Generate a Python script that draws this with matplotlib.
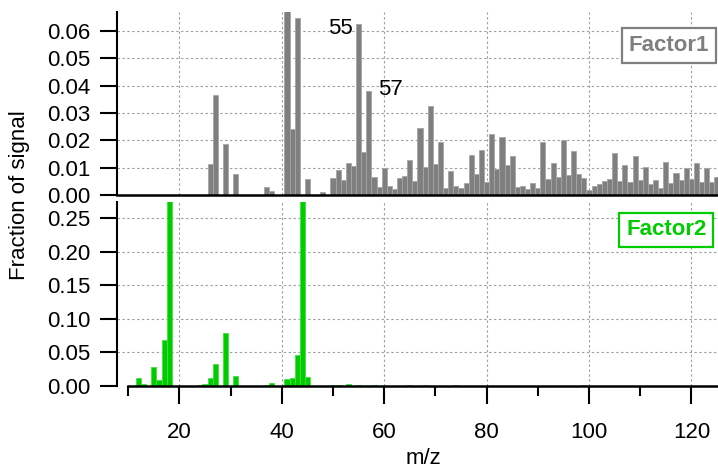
import matplotlib
matplotlib.use("Agg")
import matplotlib.pyplot as plt
from matplotlib.ticker import FixedLocator

plt.rcParams['font.family'] = ['Liberation Sans', 'DejaVu Sans']

# ---- data ----
f1_mz = [26, 27, 29, 31, 37, 38, 41, 42, 43, 45, 48,
         50, 51, 52, 53, 54, 55, 56, 57, 58, 59, 60, 61, 62, 63, 64, 65, 66, 67, 68, 69,
         70, 71, 72, 73, 74, 75, 76, 77, 78, 79, 80, 81, 82, 83, 84, 85, 86, 87, 88, 89,
         90, 91, 92, 93, 94, 95, 96, 97, 98, 99, 100, 101, 102, 103, 104, 105, 106, 107,
         108, 109, 110, 111, 112, 113, 114, 115, 116, 117, 118, 119, 120, 121, 122, 123,
         124, 125]
f1_val = [0.0112, 0.0365, 0.0187, 0.0077, 0.0028, 0.0016, 0.0700, 0.0241, 0.0647, 0.0057, 0.0011,
          0.0061, 0.0092, 0.0055, 0.0118, 0.0106, 0.0625, 0.0159, 0.0382, 0.0065, 0.0028, 0.0100,
          0.0033, 0.0023, 0.0061, 0.0068, 0.0128, 0.0052, 0.0244, 0.0104, 0.0325,
          0.0115, 0.0195, 0.0027, 0.0087, 0.0034, 0.0027, 0.0044, 0.0148, 0.0076, 0.0165, 0.0049,
          0.0225, 0.0096, 0.0212, 0.0111, 0.0143, 0.0031, 0.0034, 0.0021, 0.0044,
          0.0026, 0.0194, 0.0059, 0.0116, 0.0067, 0.0201, 0.0073, 0.0161, 0.0077, 0.0061, 0.0018,
          0.0033, 0.0040, 0.0052, 0.0057, 0.0153, 0.0052, 0.0110,
          0.0049, 0.0142, 0.0056, 0.0101, 0.0039, 0.0055, 0.0027, 0.0121, 0.0045, 0.0081, 0.0054,
          0.0099, 0.0059, 0.0116, 0.0049, 0.0100, 0.0049, 0.0066]

f2_mz = [12, 13, 15, 16, 17, 18, 24, 25, 26, 27, 29, 31, 37, 38, 41, 42, 43, 44, 45,
         50, 51, 53, 55, 58, 65, 68, 74, 87, 99]
f2_val = [0.012, 0.003, 0.028, 0.009, 0.068, 0.28, 0.001, 0.003, 0.012, 0.032, 0.079, 0.0145,
          0.002, 0.004, 0.0105, 0.012, 0.046, 0.28, 0.013,
          0.001, 0.0015, 0.003, 0.0015, 0.0015, 0.0008, 0.0015, 0.0008, 0.0005, 0.0015]

f1_yticks = [0.00, 0.01, 0.02, 0.03, 0.04, 0.05, 0.06]
f2_yticks = [0.00, 0.05, 0.10, 0.15, 0.20, 0.25]
x_major = [20, 40, 60, 80, 100, 120]
x_minor = [10, 30, 50, 70, 90, 110]
labels = ["Factor1", "Factor2"]
peak_labels = [55, 57]

grey = "#7f7f7f"
green = "#00cc00"
FS = 16

fig = plt.figure(figsize=(7.18, 4.70), dpi=100)
W, H = 718, 470
def ax_rect(l, t, r, b):
    return [l / W, 1 - b / H, (r - l) / W, (b - t) / H]

ax1 = fig.add_axes(ax_rect(117, 12, 718, 195))
ax2 = fig.add_axes(ax_rect(117, 202, 718, 386))

grid_kw = dict(color="#a0a0a0", linestyle=(0, (2.2, 2.2)), linewidth=0.8)

for ax in (ax1, ax2):
    ax.set_xlim(7.8, 125.2)
    for s in ("top", "right"):
        ax.spines[s].set_visible(False)
    ax.spines["left"].set_linewidth(1.5)
    ax.spines["bottom"].set_linewidth(1.8)
    ax.set_axisbelow(True)
    ax.xaxis.set_major_locator(FixedLocator(x_major))
    ax.grid(True, which="major", **grid_kw)
    ax.tick_params(axis="y", which="major", direction="out", length=12, width=1.5,
                   labelsize=FS, pad=7)

# top panel
ax1.bar(f1_mz, f1_val, width=1.0, color=grey, edgecolor="#a6a6a6", linewidth=0.6)
ax1.set_ylim(0, 0.067)
ax1.set_yticks(f1_yticks)
ax1.set_yticklabels([f"{v:.2f}" for v in f1_yticks])
ax1.tick_params(axis="x", bottom=False, labelbottom=False)

f1 = dict(zip(f1_mz, f1_val))
ax1.annotate(str(peak_labels[0]), xy=(peak_labels[0] - 0.5, f1[peak_labels[0]]),
             xytext=(-2, -3), textcoords="offset points", ha="right", va="center",
             fontsize=FS)
ax1.annotate(str(peak_labels[1]), xy=(peak_labels[1] + 0.5, f1[peak_labels[1]]),
             xytext=(5, 1), textcoords="offset points", ha="left", va="center",
             fontsize=FS)

ax1.text(0.918, 0.817, labels[0], transform=ax1.transAxes, ha="center", va="center",
         fontsize=FS, fontweight="bold", color=grey,
         bbox=dict(boxstyle="square,pad=0.3", facecolor="white", edgecolor=grey, linewidth=1.6))

# bottom panel
ax2.bar(f2_mz, f2_val, width=1.0, color=green, edgecolor="#44dd44", linewidth=0.6)
ax2.set_ylim(0, 0.2738)
ax2.set_yticks(f2_yticks)
ax2.set_yticklabels([f"{v:.2f}" for v in f2_yticks])
ax2.spines["bottom"].set_bounds(10, 125)
ax2.xaxis.set_minor_locator(FixedLocator(x_minor))
ax2.tick_params(axis="x", which="major", direction="out", length=13, width=1.5,
                labelsize=FS, pad=13)
ax2.tick_params(axis="x", which="minor", direction="out", length=7, width=1.5)

ax2.text(0.914, 0.848, labels[1], transform=ax2.transAxes, ha="center", va="center",
         fontsize=FS, fontweight="bold", color=green,
         bbox=dict(boxstyle="square,pad=0.3", facecolor="white", edgecolor=green, linewidth=1.6))

fig.text(20 / W, 1 - 195 / H, "Fraction of signal", rotation=90, ha="center", va="center",
         fontsize=FS)
fig.text(423 / W, 1 - 459 / H, "m/z", ha="center", va="center", fontsize=FS)

fig.savefig("out.png", dpi=100)
